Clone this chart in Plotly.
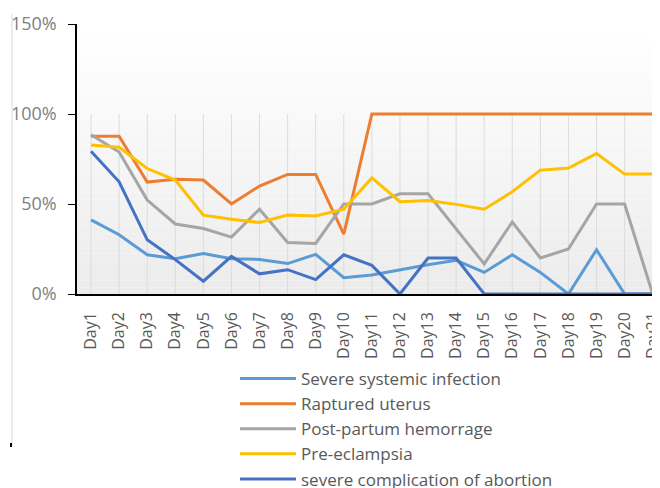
import plotly.graph_objects as go

days = ["Day%d" % i for i in range(1, 22)]

severe_infection = [41.2, 32.9, 21.8, 19.6, 22.5, 19.6, 19.2, 16.9, 22.0, 9.1, 10.6,
                    13.5, 16.3, 18.7, 12.0, 21.8, 12.0, 0, 24.6, 0, 0]
ruptured_uterus = [87.7, 87.7, 62.2, 63.8, 63.3, 50.0, 60.0, 66.4, 66.4, 33.3, 100,
                   100, 100, 100, 100, 100, 100, 100, 100, 100, 100]
pph = [88.5, 78.9, 52.2, 38.9, 36.4, 31.6, 47.1, 28.6, 28.1, 50.0, 50.0,
       55.7, 55.7, 36.0, 16.7, 40.0, 20.0, 25.0, 50.0, 50.0, 0]
pre_eclampsia = [82.8, 81.5, 69.7, 63.3, 43.8, 41.5, 39.7, 43.9, 43.4, 47.1, 64.5,
                 51.3, 52.0, 49.8, 47.1, 56.8, 68.8, 70.0, 78.0, 66.6, 66.6]
abortion = [79.3, 62.3, 30.1, 19.1, 7.1, 20.9, 11.2, 13.5, 8.0, 21.8, 15.9,
            0, 20.0, 20.0, 0, 0, 0, 0, 0, 0, 0]

series_names = ["Severe systemic infection", "Raptured uterus", "Post-partum hemorrage",
                "Pre-eclampsia", "severe complication of abortion"]
series_values = [severe_infection, ruptured_uterus, pph, pre_eclampsia, abortion]
series_colors = ["#5B9BD5", "#ED7D31", "#A5A5A5", "#FFC000", "#4472C4"]

# figure sized so that, with the page's 8px body margin, it fills the 660x488 window
W, H = 652, 480
ML, MT, MB = 69, 16, 194
PW, PH = W - ML, H - MT - MB

fig = go.Figure()
for name, vals, col in zip(series_names, series_values, series_colors):
    fig.add_trace(go.Scatter(
        x=days, y=[v / 100 for v in vals], name=name, mode="lines",
        line=dict(color=col, width=3), hoverinfo="x+y+name"))

shapes = []
# gradient background for the plot area
n = 40
for i in range(n):
    t = i / (n - 1)
    g = int(round(255 - (255 - 236) * (1 - t)))
    shapes.append(dict(type="rect", xref="x domain", yref="y domain",
                       x0=0, x1=1, y0=i / n, y1=(i + 1) / n,
                       fillcolor="rgb(%d,%d,%d)" % (g, g, g), line=dict(width=0),
                       layer="below"))
# faint vertical grid lines
for d in days:
    shapes.append(dict(type="line", xref="x", yref="y", x0=d, x1=d, y0=0, y1=1.0,
                       line=dict(color="#dcdcdc", width=1), layer="below"))
# left border line of the chart frame (window pixels -> paper coords)
def px_x(p):
    return (p - 8 - ML) / PW
def px_y(p):
    return (MT + PH - (p - 8)) / PH
shapes.append(dict(type="line", xref="paper", yref="paper",
                   x0=px_x(12), x1=px_x(12), y0=px_y(14), y1=px_y(445),
                   line=dict(color="#d9d9d9", width=1)))
shapes.append(dict(type="line", xref="paper", yref="paper",
                   x0=px_x(11), x1=px_x(11), y0=px_y(443), y1=px_y(447),
                   line=dict(color="#000000", width=2)))

fig.update_layout(
    width=W, height=H,
    margin=dict(l=ML, r=0, t=MT, b=MB, pad=0, autoexpand=False),
    paper_bgcolor="white", plot_bgcolor="white",
    shapes=shapes,
    showlegend=True,
    legend=dict(xref="container", yref="container", x=227 / W, y=1 - 353 / H,
                xanchor="left", yanchor="top", itemwidth=56,
                font=dict(family="Open Sans", size=17, color="#595959"),
                bgcolor="rgba(0,0,0,0)", tracegroupgap=0),
    xaxis=dict(range=[-0.5, 20.26], showgrid=False, zeroline=False,
               showline=True, linecolor="#000000", linewidth=1.5,
               tickangle=-90, ticks="", ticklabelstandoff=10,
               tickfont=dict(family="Open Sans", size=16, color="#595959")),
    yaxis=dict(range=[0, 1.5], dtick=0.5, tickformat=".0%", showgrid=False,
               zeroline=False, showline=True, linecolor="#000000", linewidth=1.5,
               ticks="outside", ticklen=7, tickcolor="#000000", tickwidth=1,
               ticklabelstandoff=8,
               tickfont=dict(family="Open Sans", size=18, color="#7f7f7f")),
)

fig.write_html("out.html")
